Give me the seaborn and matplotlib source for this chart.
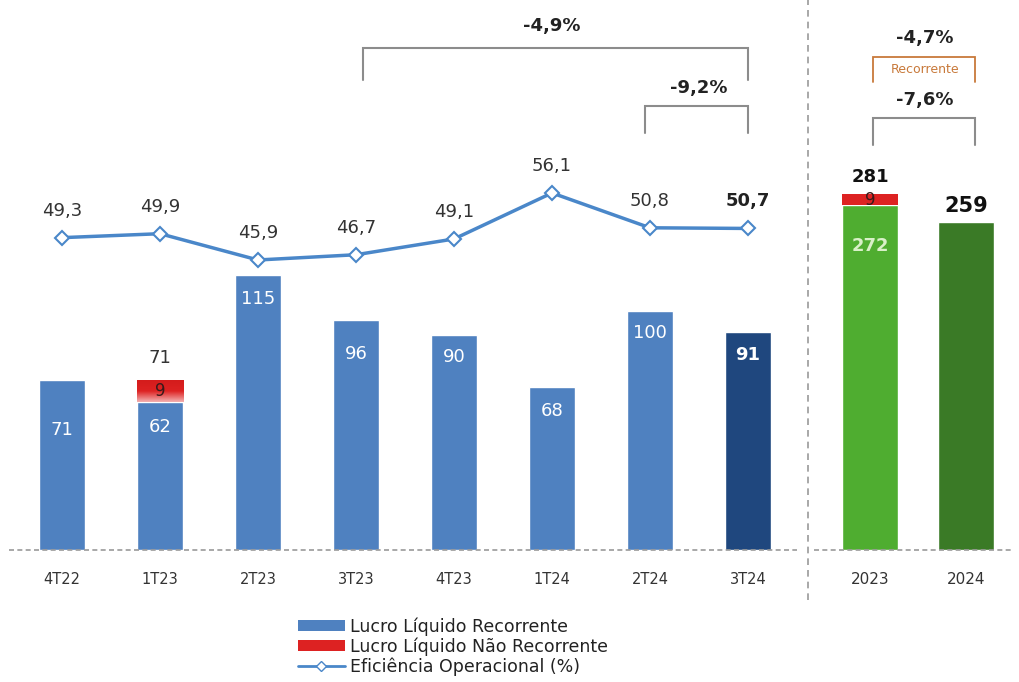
import matplotlib
matplotlib.use("Agg")
import matplotlib.pyplot as plt
import seaborn as sns
import numpy as np
import pandas as pd
from matplotlib.lines import Line2D
from matplotlib.patches import Patch
import matplotlib.transforms as mtrans
from matplotlib.colors import LinearSegmentedColormap

# ---------------- data ----------------
quarters = ["4T22", "1T23", "2T23", "3T23", "4T23", "1T24", "2T24", "3T24"]
rec_q = [71, 62, 115, 96, 90, 68, 100, 91]
nonrec_q = [0, 9, 0, 0, 0, 0, 0, 0]
eff_q = [49.3, 49.9, 45.9, 46.7, 49.1, 56.1, 50.8, 50.7]
eff_labels = ["49,3", "49,9", "45,9", "46,7", "49,1", "56,1", "50,8", "50,7"]
years = ["2023", "2024"]
rec_y = [272, 259]
nonrec_y = [9, 0]
var_labels = ["-4,9%", "-9,2%", "-4,7%", "-7,6%"]
legend_labels = ["Lucro Líquido Recorrente", "Lucro Líquido Não Recorrente",
                 "Eficiência Operacional (%)"]

# ---------------- style ----------------
BLUE = "#4f81c0"
DBLUE = "#1f477e"
LINE = "#4a87c9"
RED = "#dd2222"
GREEN = "#4fad30"
DGREEN = "#3a7a26"
GRAY = "#8c8c8c"
ORANGE = "#c8793a"
TXT = "#333333"

sns.set_theme(style="white")
plt.rcParams['font.family'] = ['DejaVu Sans']

W, H = 1020, 682
fig = plt.figure(figsize=(W / 100, H / 100), dpi=100)


def rect(x0, x1, ytop, ybot):
    return [x0 / W, 1 - ybot / H, (x1 - x0) / W, (ybot - ytop) / H]


axL = fig.add_axes(rect(13, 797, 100, 550))
axR = fig.add_axes(rect(822, 1014, 100, 550))

red_cmap = LinearSegmentedColormap.from_list("redgrad", ["#f3b0b0", RED, "#d41c1c"])


def grad_bar(ax, x, bottom, height, width):
    # red segment with a soft vertical gradient (lighter at bottom)
    img = np.linspace(0, 1, 50).reshape(-1, 1)
    ax.imshow(img, cmap=red_cmap, origin="lower", aspect="auto",
              extent=(x - width / 2, x + width / 2, bottom, bottom + height),
              zorder=3, interpolation="bicubic")


# ---------------- left: quarterly bars ----------------
dfq = pd.DataFrame({"q": quarters, "rec": rec_q, "pos": range(len(quarters)),
                    "eff": eff_q})
pal_q = [BLUE] * (len(quarters) - 1) + [DBLUE]
sns.barplot(data=dfq, x="q", y="rec", hue="q", palette=pal_q, width=0.47,
            saturation=1, legend=False, ax=axL)
for i, (r, n) in enumerate(zip(rec_q, nonrec_q)):
    if n > 0:
        grad_bar(axL, i, r, n, 0.47)

inside_off = [50, 25, 24, 34, 22, 24, 22, 23]
for i, r in enumerate(rec_q):
    last = i == len(rec_q) - 1
    axL.annotate(str(r), (i, r), xytext=(0, -inside_off[i] / 1.389),
                 textcoords="offset points", ha="center", va="center",
                 color="white", fontsize=13,
                 fontweight="bold" if last else "normal", zorder=6)
for i, (r, n) in enumerate(zip(rec_q, nonrec_q)):
    if n > 0:
        axL.annotate(str(n), (i, r + n / 2), ha="center", va="center",
                     color="#3a1a1a", fontsize=12, zorder=6)
        axL.annotate(str(r + n), (i, r + n), xytext=(0, 22 / 1.389),
                     textcoords="offset points", ha="center", va="center",
                     color=TXT, fontsize=13)

# line on twin axis
axT = axL.twinx()
sns.lineplot(data=dfq, x="pos", y="eff", color=LINE, linewidth=2.5,
             marker="D", markersize=7, markerfacecolor="white",
             markeredgecolor=LINE, markeredgewidth=1.5, ax=axT, sort=False)
axT.set_ylim(1.76, 70.25)
for i, (v, lab) in enumerate(zip(eff_q, eff_labels)):
    last = i == len(eff_q) - 1
    axT.annotate(lab, (i, v), xytext=(0, 27 / 1.389), textcoords="offset points",
                 ha="center", va="center", color="#222222" if last else TXT,
                 fontsize=13, fontweight="bold" if last else "normal")

for a in (axL, axT):
    a.set_xlabel("")
    a.set_ylabel("")
    a.set_yticks([])
    for s in a.spines.values():
        s.set_visible(False)

axL.set_xlim(-0.5, len(quarters) - 0.5)
axL.set_ylim(0, 188)
axL.set_xticks(range(len(quarters)), quarters)
axL.tick_params(axis="x", length=0, pad=16, labelsize=10.5, labelcolor=TXT,
                labelbottom=True)

# ---------------- right: annual bars ----------------
dfy = pd.DataFrame({"y": years, "rec": rec_y})
sns.barplot(data=dfy, x="y", y="rec", hue="y", palette=[GREEN, DGREEN],
            width=0.58, saturation=1, legend=False, ax=axR)
for i, (r, n) in enumerate(zip(rec_y, nonrec_y)):
    if n > 0:
        axR.bar(i, n, bottom=r, width=0.58, color=RED, linewidth=0)

for i, (r, n) in enumerate(zip(rec_y, nonrec_y)):
    if n > 0:
        axR.annotate(str(r), (i, r), xytext=(0, -41 / 1.389),
                     textcoords="offset points", ha="center", va="center",
                     color="#d9f0c8", fontsize=13, fontweight="bold")
        axR.annotate(str(n), (i, r + n / 2), ha="center", va="center",
                     color="#3a1a1a", fontsize=12)
        axR.annotate(str(r + n), (i, r + n), xytext=(0, 17 / 1.389),
                     textcoords="offset points", ha="center", va="center",
                     color="#111111", fontsize=13, fontweight="bold")
    else:
        axR.annotate(str(r), (i, r), xytext=(0, 16 / 1.389),
                     textcoords="offset points", ha="center", va="center",
                     color="#111111", fontsize=15, fontweight="bold")

axR.set_xlim(-0.5, 1.5)
axR.set_ylim(0, 355)
axR.set_xlabel("")
axR.set_ylabel("")
axR.set_yticks([])
for s in axR.spines.values():
    s.set_visible(False)
axR.tick_params(axis="x", length=0, pad=16, labelsize=11, labelcolor=TXT)

# baselines (dotted)
for a, x0 in ((axL, -0.005), (axR, -0.04)):
    a.plot([x0, 1.0], [0, 0], transform=a.transAxes,
           color="#9a9a9a", lw=1.2, ls=(0, (3, 2)), clip_on=False, zorder=5)

# vertical divider
fig.add_artist(Line2D([808 / W, 808 / W], [1 - 600 / H, 1.0], color="#9a9a9a",
                      lw=1.2, ls=(0, (4, 3))))


# ---------------- brackets ----------------
def bracket(ax, x0, x1, ytop, ybot, color, lw=1.5):
    tr = mtrans.blended_transform_factory(ax.transData, ax.transAxes)
    ax.plot([x0, x0, x1, x1], [ybot, ytop, ytop, ybot], color=color, lw=lw,
            transform=tr, clip_on=False, solid_joinstyle="miter")
    return tr


tr = bracket(axL, 3.07, 7.0, 1.116, 1.044, GRAY)
axL.text(5.0, 1.165, var_labels[0], transform=tr, ha="center", va="center",
         fontsize=13, fontweight="bold", color="#222222")
tr = bracket(axL, 5.95, 7.0, 0.987, 0.927, GRAY)
axL.text(6.5, 1.027, var_labels[1], transform=tr, ha="center", va="center",
         fontsize=13, fontweight="bold", color="#222222")

tr = bracket(axR, 0.03, 1.09, 1.096, 1.04, ORANGE, lw=1.3)
axR.text(0.57, 1.067, "Recorrente", transform=tr, ha="center", va="center",
         fontsize=9, color=ORANGE)
axR.text(0.57, 1.138, var_labels[2], transform=tr, ha="center", va="center",
         fontsize=13, fontweight="bold", color="#222222")
tr = bracket(axR, 0.03, 1.09, 0.96, 0.9, GRAY)
axR.text(0.57, 1.0, var_labels[3], transform=tr, ha="center", va="center",
         fontsize=13, fontweight="bold", color="#222222")

# ---------------- legend ----------------
handles = [Patch(facecolor=BLUE, edgecolor="none"),
           Patch(facecolor=RED, edgecolor="none"),
           Line2D([0], [0], color=LINE, lw=2, marker="D", markersize=5,
                  markerfacecolor="white", markeredgecolor=LINE)]
fig.legend(handles, legend_labels, loc="upper left",
           bbox_to_anchor=(298 / W, 1 - 617 / H), frameon=False, fontsize=12.5,
           handlelength=2.7, handleheight=0.6, labelspacing=0.1,
           handletextpad=0.3, borderaxespad=0, borderpad=0, labelcolor="#222222")

fig.savefig("out.png", dpi=100)
